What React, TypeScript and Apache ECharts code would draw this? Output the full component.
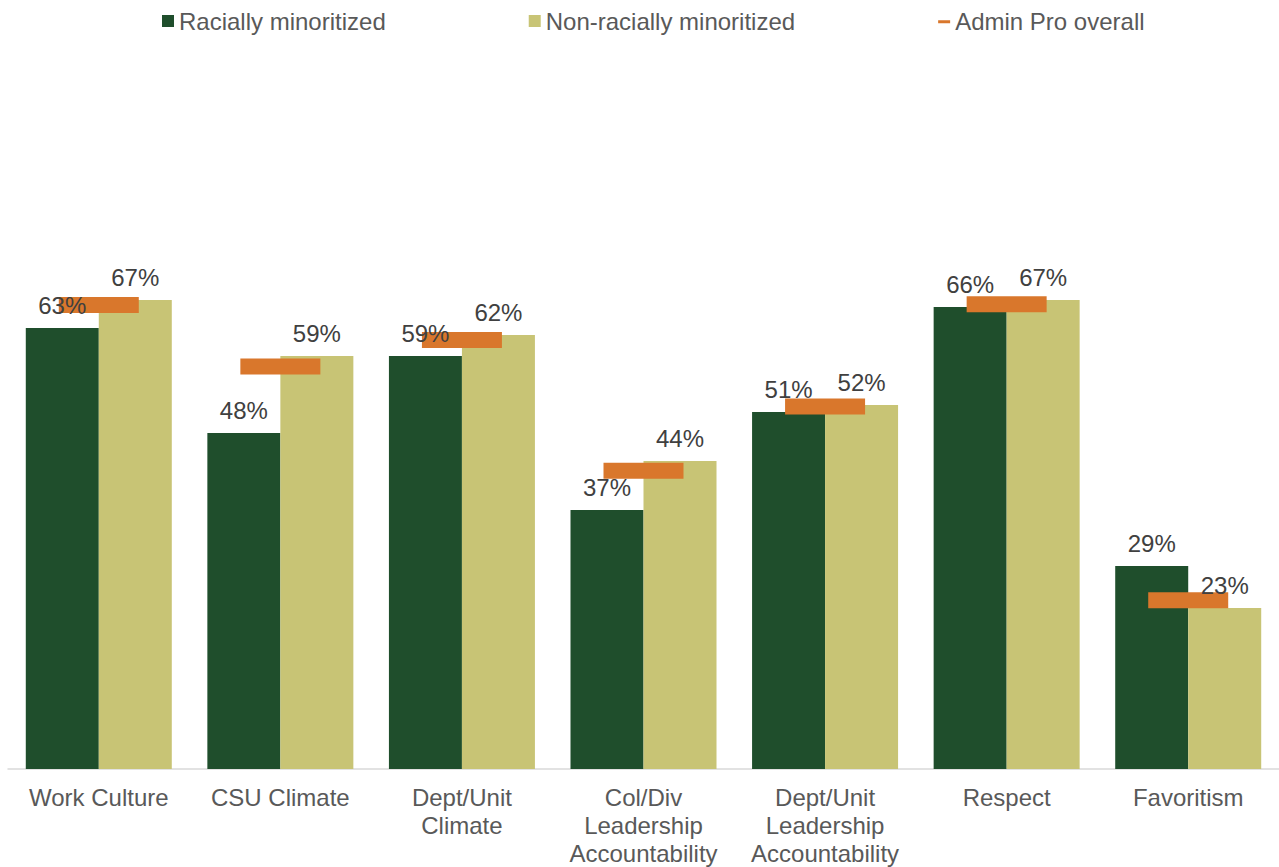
import React, { useEffect, useRef } from "react";
import * as echarts from "echarts";

const categories = [
  "Work Culture",
  "CSU Climate",
  "Dept/Unit\nClimate",
  "Col/Div\nLeadership\nAccountability",
  "Dept/Unit\nLeadership\nAccountability",
  "Respect",
  "Favoritism",
];
const racial = [63, 48, 59, 37, 51, 66, 29];
const nonRacial = [67, 59, 62, 44, 52, 67, 23];
const overall = [66.3, 57.5, 61.3, 42.6, 51.8, 66.4, 24.1];

const FONT = "'Liberation Sans', Arial, sans-serif";
const DARK = "#1f4e2c";
const TAN = "#c8c475";
const ORANGE = "#d9772c";

export default function App() {
  const ref = useRef<HTMLDivElement>(null);
  useEffect(() => {
    if (!ref.current) return;
    const chart = echarts.init(ref.current, undefined, { renderer: "svg" });
    const labelCfg = {
      show: true,
      position: "top",
      distance: 11,
      formatter: "{c}%",
      color: "#404040",
      fontSize: 24,
      fontFamily: FONT,
    };
    chart.setOption({
      animation: false,
      backgroundColor: "#ffffff",
      legend: {
        left: 157,
        top: 4,
        itemWidth: 12,
        itemHeight: 12,
        itemGap: 143,
        textStyle: { color: "#595959", fontSize: 24, fontFamily: FONT },
        data: [
          { name: "Racially minoritized", icon: "rect" },
          { name: "Non-racially minoritized", icon: "rect" },
          {
            name: "Admin Pro overall",
            icon: "path://M0,0L0.01,0L0,0.01Z M0,6L14,6L14,9.5L0,9.5Z M14,14L13.99,14L14,13.99Z",
          },
        ],
      },
      grid: { left: 8, right: 0, top: 69, bottom: 98, containLabel: false },
      xAxis: [
        {
          type: "category",
          data: categories,
          axisLine: { lineStyle: { color: "#d9d9d9", width: 1.5 } },
          axisTick: { show: false },
          axisLabel: {
            color: "#595959",
            fontSize: 24,
            fontFamily: FONT,
            lineHeight: 28,
            margin: 14,
            interval: 0,
          },
        },
        { type: "category", data: categories, show: false },
      ],
      yAxis: { type: "value", min: 0, max: 100, show: false, splitLine: { show: false } },
      series: [
        {
          name: "Racially minoritized",
          type: "bar",
          data: racial,
          barWidth: 73,
          barGap: "0%",
          z: 2,
          itemStyle: { color: DARK },
          silent: true,
        },
        {
          name: "Non-racially minoritized",
          type: "bar",
          data: nonRacial,
          barWidth: 73,
          barGap: "0%",
          z: 2,
          itemStyle: { color: TAN },
          silent: true,
        },
        {
          name: "Admin Pro overall",
          type: "scatter",
          data: overall,
          symbol: "rect",
          symbolSize: [80, 16],
          z: 3,
          itemStyle: { color: ORANGE, opacity: 1 },
          silent: true,
        },
        {
          name: "lbl-racial",
          type: "bar",
          xAxisIndex: 1,
          data: racial,
          barWidth: 73,
          barGap: "0%",
          z: 4,
          itemStyle: { color: "rgba(0,0,0,0)" },
          label: labelCfg,
          silent: true,
        },
        {
          name: "lbl-nonracial",
          type: "bar",
          xAxisIndex: 1,
          data: nonRacial,
          barWidth: 73,
          barGap: "0%",
          z: 4,
          itemStyle: { color: "rgba(0,0,0,0)" },
          label: labelCfg,
          silent: true,
        },
      ],
    });
    return () => chart.dispose();
  }, []);
  return (
    <div
      ref={ref}
      style={{ position: "absolute", left: 0, top: 0, width: 1279, height: 867 }}
    />
  );
}
